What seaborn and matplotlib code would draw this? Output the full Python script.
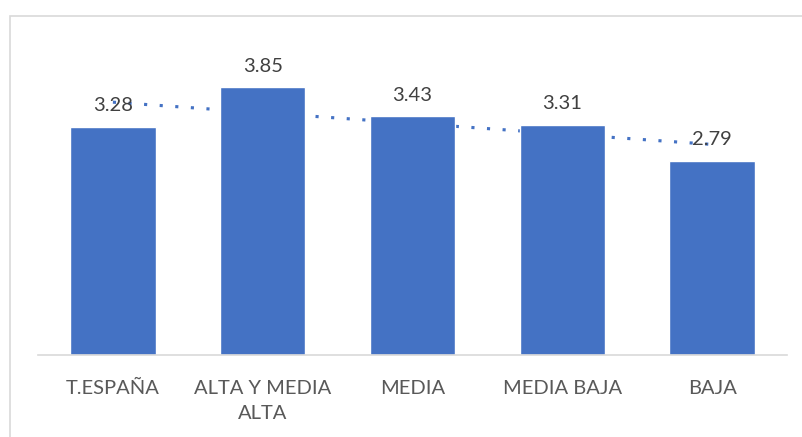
import numpy as np
import seaborn as sns
import matplotlib.pyplot as plt
from matplotlib.patches import Rectangle

# data
categories = ["T.ESPAÑA", "ALTA Y MEDIA\nALTA", "MEDIA", "MEDIA BAJA", "BAJA"]
values = [3.28, 3.85, 3.43, 3.31, 2.79]
value_labels = ["3.28", "3.85", "3.43", "3.31", "2.79"]

bar_color = "#4472C4"
text_color = "#595959"

sns.set_style("white")
plt.rcParams['font.family'] = ['Lato', 'DejaVu Sans']

fig = plt.figure(figsize=(8.02, 4.37), dpi=100)
ax = fig.add_axes([38 / 802, 82 / 437, 749 / 802, 315 / 437])

sns.barplot(x=categories, y=values, color=bar_color, width=0.57,
            saturation=1, ax=ax)
for p in ax.patches:
    p.set_zorder(2)

# linear trendline (Excel style)
xs = np.arange(len(values))
slope, intercept = np.polyfit(xs, values, 1)
ax.plot(xs, slope * xs + intercept, color=bar_color, lw=2.25,
        linestyle=(0, (1, 4)), dash_capstyle='butt', zorder=1)

for x, v, lab in zip(xs, values, value_labels):
    ax.annotate(lab, (x, v), xytext=(0, 9), textcoords='offset points',
                ha='center', va='bottom', fontsize=14.5, color="#404040", zorder=3)

ax.set_xlim(-0.5, 4.5)
ax.set_ylim(0, 4.53)
ax.set_yticks([])
ax.set_xlabel("")
ax.set_ylabel("")
for s in ['top', 'right', 'left']:
    ax.spines[s].set_visible(False)
ax.spines['bottom'].set_color("#D9D9D9")
ax.spines['bottom'].set_linewidth(1.2)
ax.tick_params(axis='x', length=0, pad=18, labelsize=14.5, labelcolor=text_color)
for t in ax.get_xticklabels():
    t.set_linespacing(1.55)

# chart border
fig.patches.append(Rectangle((9.5 / 802, -0.1), 1.2, (437 - 15.5) / 437 + 0.1,
                             transform=fig.transFigure, fill=False,
                             edgecolor="#D9D9D9", lw=1.2))

fig.savefig("out.png", dpi=100)
